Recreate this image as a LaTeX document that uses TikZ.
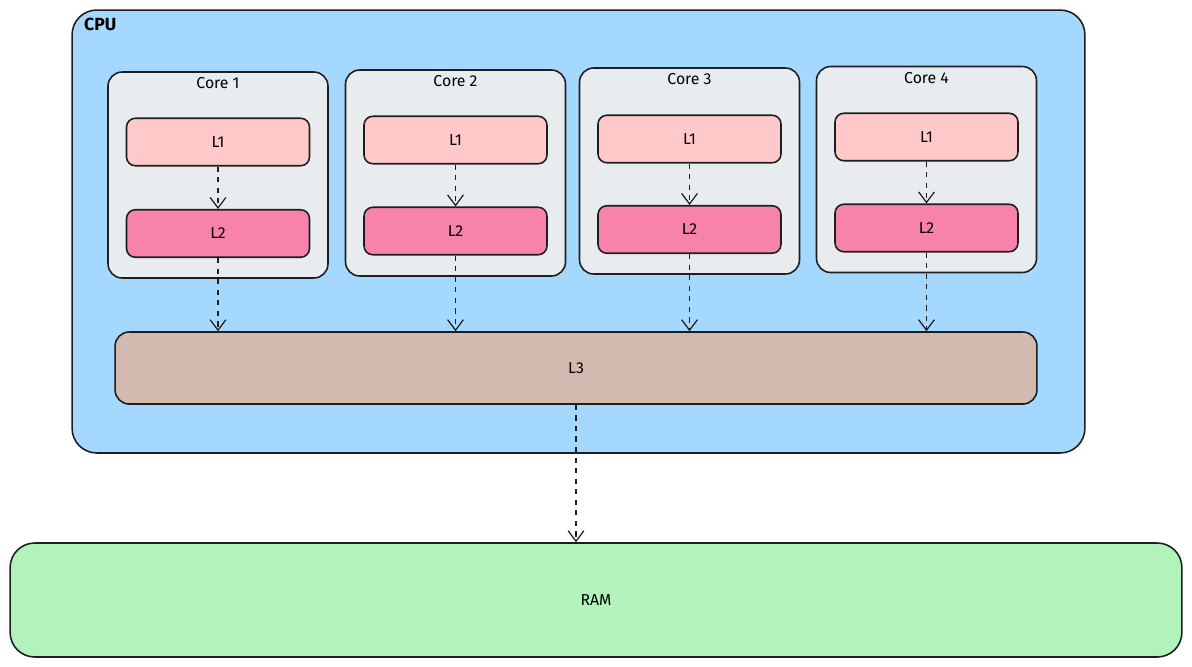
\documentclass[tikz,border=0pt]{standalone}
\usepackage{fontspec}
\setmainfont{Fira Sans}
\usetikzlibrary{arrows.meta}
\definecolor{cpublue}{HTML}{A5D8FF}
\definecolor{coregray}{HTML}{E9ECEF}
\definecolor{lone}{HTML}{FFC9C9}
\definecolor{ltwo}{HTML}{F783AC}
\definecolor{lthree}{HTML}{D2BAB0}
\definecolor{ramgreen}{HTML}{B2F2BB}
\definecolor{edge}{HTML}{1E1E1E}
\tikzset{
  box/.style={rectangle, rounded corners=8pt, draw=edge, line width=0.9pt, font=\small},
  cache/.style={box, rounded corners=5pt, minimum width=3.66cm, minimum height=0.95cm},
  flow/.style={draw=edge, dashed, line width=0.7pt, -{Straight Barb[length=6pt,width=9pt]}}
}
\begin{document}
\begin{tikzpicture}[x=0.02cm,y=-0.02cm]
\useasboundingbox (0,0) rectangle (1192,666);
% CPU
\node[box, rounded corners=14pt, fill=cpublue, minimum width=20.26cm, minimum height=8.86cm] (cpu) at (578.5,231.5) {};
\node[font=\bfseries, anchor=north west] (cpulabel) at (78,12) {CPU};

% Cores
\foreach \i/\x/\y/\la/\lb in {1/218/175/142/233.5, 2/455.5/173/140/231, 3/689.5/171/139/229.5, 4/926.5/169.5/137/228} {
  \node[box, fill=coregray, minimum width=4.4cm, minimum height=4.12cm] (core\i) at (\x,\y) {};
  \node[font=\small, anchor=north] (corelabel\i) at (core\i.north) {Core \i};
  \node[cache, fill=lone] (lone\i) at (\x,\la) {L1};
  \node[cache, fill=ltwo] (ltwo\i) at (\x,\lb) {L2};
  \draw[flow] (lone\i) -- (ltwo\i);
}

% L3 and RAM
\node[box, fill=lthree, minimum width=18.44cm, minimum height=1.44cm] (lthree) at (576,368) {L3};
\node[box, rounded corners=14pt, fill=ramgreen, minimum width=23.44cm, minimum height=2.28cm] (ram) at (596,600) {RAM};

\foreach \i in {1,...,4}
  \draw[flow] (ltwo\i) -- (ltwo\i |- lthree.north);
\draw[flow] (lthree.south) -- (lthree.south |- ram.north);
\end{tikzpicture}
\end{document}
